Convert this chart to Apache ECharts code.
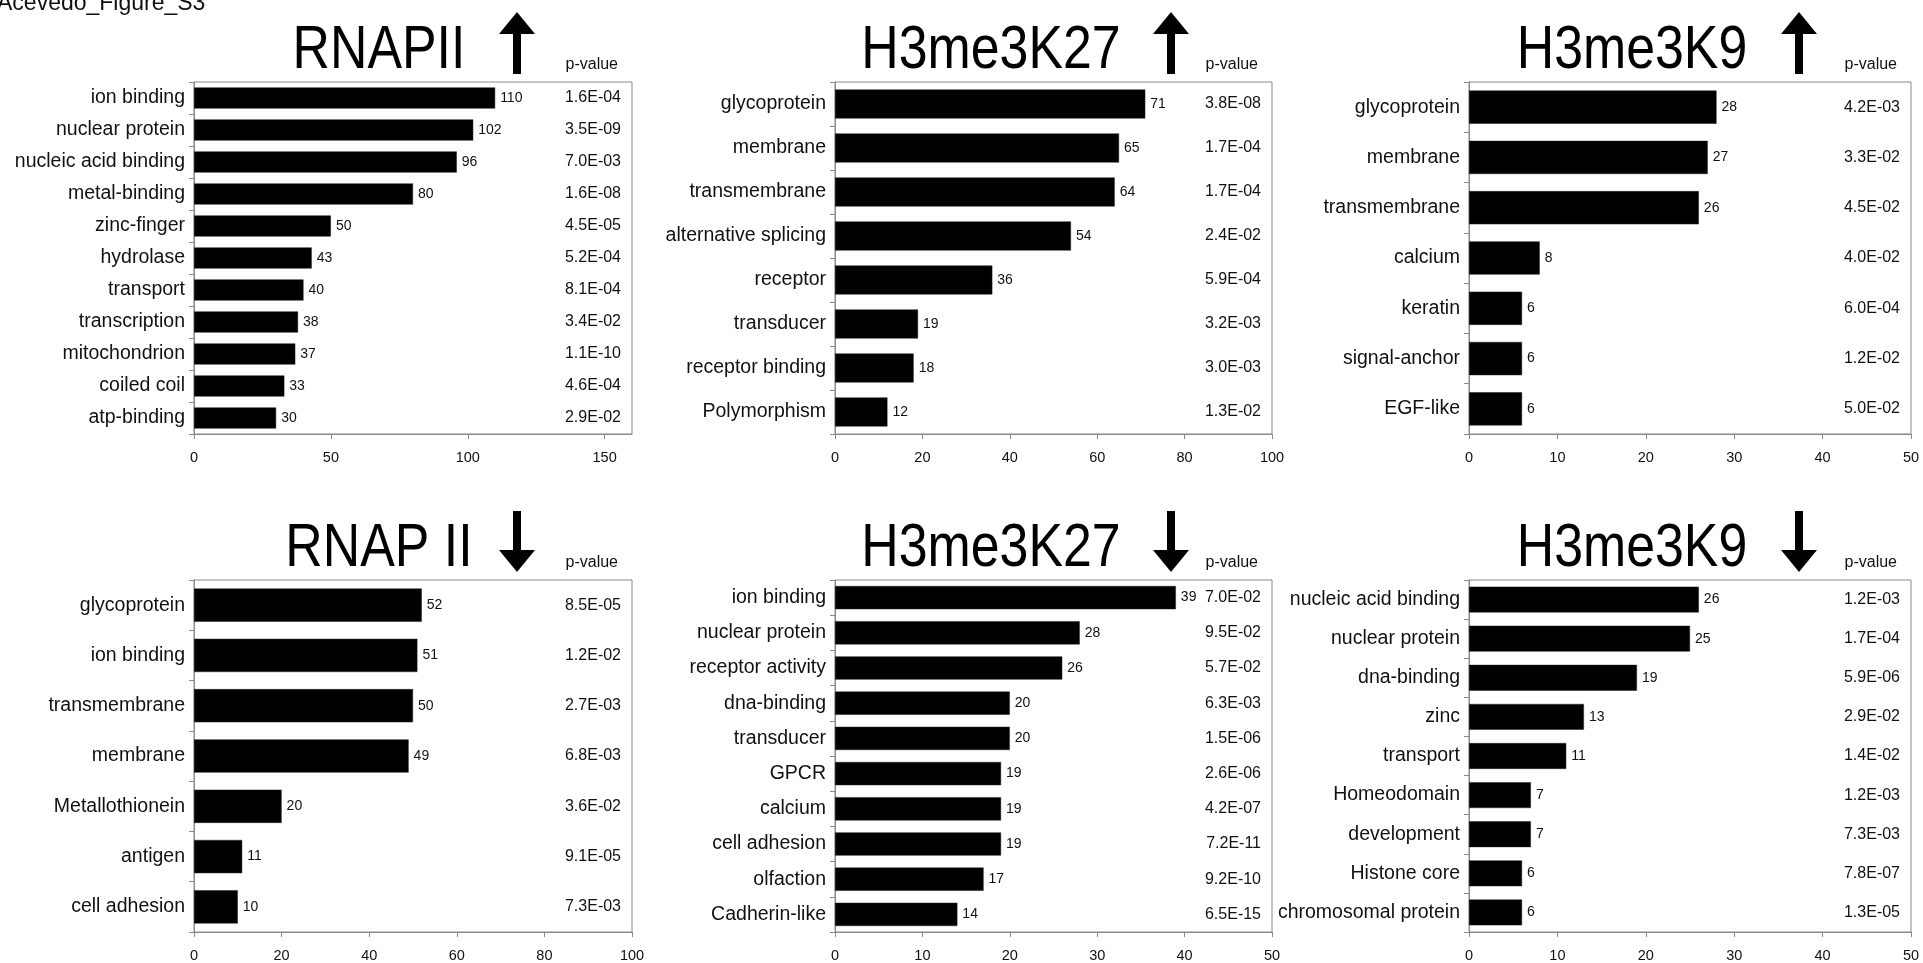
<!DOCTYPE html>
<html>
<head>
<meta charset="utf-8">
<script src="https://cdn.jsdelivr.net/npm/echarts@6/dist/echarts.min.js"></script>
<style>
html,body{margin:0;padding:0;background:#fff;}
#chart{width:1923px;height:963px;}
</style>
</head>
<body>
<div id="chart"></div>
<script>
// ---------- DATA ----------
const figureLabel = 'Acevedo_Figure_S3';
const panelTitles = ['RNAPII', 'H3me3K27', 'H3me3K9', 'RNAP II', 'H3me3K27', 'H3me3K9'];
const panelDirections = ['up', 'up', 'up', 'down', 'down', 'down'];
const pHeader = 'p-value';

const cat1 = ['ion binding','nuclear protein','nucleic acid binding','metal-binding','zinc-finger','hydrolase','transport','transcription','mitochondrion','coiled coil','atp-binding'];
const val1 = [110,102,96,80,50,43,40,38,37,33,30];
const p1 = ['1.6E-04','3.5E-09','7.0E-03','1.6E-08','4.5E-05','5.2E-04','8.1E-04','3.4E-02','1.1E-10','4.6E-04','2.9E-02'];

const cat2 = ['glycoprotein','membrane','transmembrane','alternative splicing','receptor','transducer','receptor binding','Polymorphism'];
const val2 = [71,65,64,54,36,19,18,12];
const p2 = ['3.8E-08','1.7E-04','1.7E-04','2.4E-02','5.9E-04','3.2E-03','3.0E-03','1.3E-02'];

const cat3 = ['glycoprotein','membrane','transmembrane','calcium','keratin','signal-anchor','EGF-like'];
const val3 = [28,27,26,8,6,6,6];
const p3 = ['4.2E-03','3.3E-02','4.5E-02','4.0E-02','6.0E-04','1.2E-02','5.0E-02'];

const cat4 = ['glycoprotein','ion binding','transmembrane','membrane','Metallothionein','antigen','cell adhesion'];
const val4 = [52,51,50,49,20,11,10];
const p4 = ['8.5E-05','1.2E-02','2.7E-03','6.8E-03','3.6E-02','9.1E-05','7.3E-03'];

const cat5 = ['ion binding','nuclear protein','receptor activity','dna-binding','transducer','GPCR','calcium','cell adhesion','olfaction','Cadherin-like'];
const val5 = [39,28,26,20,20,19,19,19,17,14];
const p5 = ['7.0E-02','9.5E-02','5.7E-02','6.3E-03','1.5E-06','2.6E-06','4.2E-07','7.2E-11','9.2E-10','6.5E-15'];

const cat6 = ['nucleic acid binding','nuclear protein','dna-binding','zinc','transport','Homeodomain','development','Histone core','chromosomal protein'];
const val6 = [26,25,19,13,11,7,7,6,6];
const p6 = ['1.2E-03','1.7E-04','5.9E-06','2.9E-02','1.4E-02','1.2E-03','7.3E-03','7.8E-07','1.3E-05'];

const axisMax = [160, 100, 50, 100, 50, 50];
const axisInterval = [50, 20, 10, 20, 10, 10];

// ---------- LAYOUT ----------
const colLeft = [194, 835, 1469];
const colRight = [632, 1272, 1911];
const rowTop = [82, 580];
const rowBottom = [434, 932];
const titleCenterX = [379, 991, 1632];
const titleBottomY = [82, 580];
const arrowX = [517, 1171, 1799];
const arrowTop = [12, 511];
const arrowBottom = [74, 572];

const FONT = "'Liberation Sans',Arial,sans-serif";
const FRAME = '#8a8a8a';

const cats = [cat1, cat2, cat3, cat4, cat5, cat6];
const vals = [val1, val2, val3, val4, val5, val6];
const pvals = [p1, p2, p3, p4, p5, p6];

const grids = [], xAxes = [], yAxes = [], series = [], graphics = [];

for (let i = 0; i < 6; i++) {
  const col = i % 3, row = Math.floor(i / 3);
  const L = colLeft[col], R = colRight[col], T = rowTop[row], B = rowBottom[row];
  grids.push({
    left: L, top: T, width: R - L, height: B - T,
    containLabel: false, outerBoundsMode: 'none',
    show: true, borderColor: FRAME, borderWidth: 1, backgroundColor: 'transparent'
  });
  xAxes.push({
    type: 'value', gridIndex: i, min: 0, max: axisMax[i], interval: axisInterval[i],
    axisLine: { show: true, lineStyle: { color: FRAME, width: 1 } },
    axisTick: { show: true, length: 5, lineStyle: { color: FRAME } },
    splitLine: { show: false },
    axisLabel: { show: true, showMaxLabel: axisMax[i] % axisInterval[i] === 0, margin: 16,
      fontFamily: FONT, fontSize: 14.5, color: '#111' }
  });
  yAxes.push({
    type: 'category', gridIndex: i, data: cats[i], inverse: true,
    axisLine: { show: true, lineStyle: { color: FRAME, width: 1 } },
    axisTick: { show: true, length: 5, alignWithLabel: false, lineStyle: { color: FRAME } },
    axisLabel: { margin: 9, fontFamily: FONT, fontSize: 19.5, color: '#111' }
  });
  yAxes.push({
    type: 'category', gridIndex: i, data: pvals[i], inverse: true, position: 'right',
    axisLine: { show: false }, axisTick: { show: false },
    axisLabel: { inside: true, margin: 11, fontFamily: FONT, fontSize: 16, color: '#111' }
  });
  series.push({
    type: 'bar', xAxisIndex: i, yAxisIndex: 2 * i, data: vals[i],
    barCategoryGap: '34%',
    itemStyle: { color: '#000', borderColor: '#222', borderWidth: 0.5 },
    label: { show: true, position: 'right', distance: 5, fontFamily: FONT, fontSize: 14, color: '#111' },
    silent: true, animation: false
  });

  // Panel title (condensed look via horizontal scale)
  graphics.push({
    type: 'text', x: titleCenterX[col], y: titleBottomY[row], scaleX: 0.85,
    style: { text: panelTitles[i], font: '61px ' + FONT, fill: '#000',
      textAlign: 'center', align: 'center', textVerticalAlign: 'bottom', verticalAlign: 'bottom' }
  });
  // Arrow
  const cx = arrowX[col], ty = arrowTop[row], by = arrowBottom[row];
  const hh = 22, hw = 18, sw = 4;
  let pts;
  if (panelDirections[i] === 'up') {
    pts = [[cx, ty], [cx + hw, ty + hh], [cx + sw, ty + hh], [cx + sw, by], [cx - sw, by], [cx - sw, ty + hh], [cx - hw, ty + hh]];
  } else {
    pts = [[cx, by], [cx + hw, by - hh], [cx + sw, by - hh], [cx + sw, ty], [cx - sw, ty], [cx - sw, by - hh], [cx - hw, by - hh]];
  }
  graphics.push({ type: 'polygon', shape: { points: pts }, style: { fill: '#000' } });
  // p-value header
  graphics.push({
    type: 'text', x: R - 14, y: T - 9,
    style: { text: pHeader, font: '16px ' + FONT, fill: '#111',
      textAlign: 'right', align: 'right', textVerticalAlign: 'bottom', verticalAlign: 'bottom' }
  });
}

// figure label (partly cut at the top-left)
graphics.push({
  type: 'text', x: -3, y: 15,
  style: { text: figureLabel, font: '23px ' + FONT, fill: '#111',
    textAlign: 'left', align: 'left', textVerticalAlign: 'bottom', verticalAlign: 'bottom' }
});

const chart = echarts.init(document.getElementById('chart'), null, { renderer: 'canvas' });
chart.setOption({
  animation: false,
  backgroundColor: '#fff',
  grid: grids, xAxis: xAxes, yAxis: yAxes, series: series,
  graphic: graphics
});
</script>
</body>
</html>
